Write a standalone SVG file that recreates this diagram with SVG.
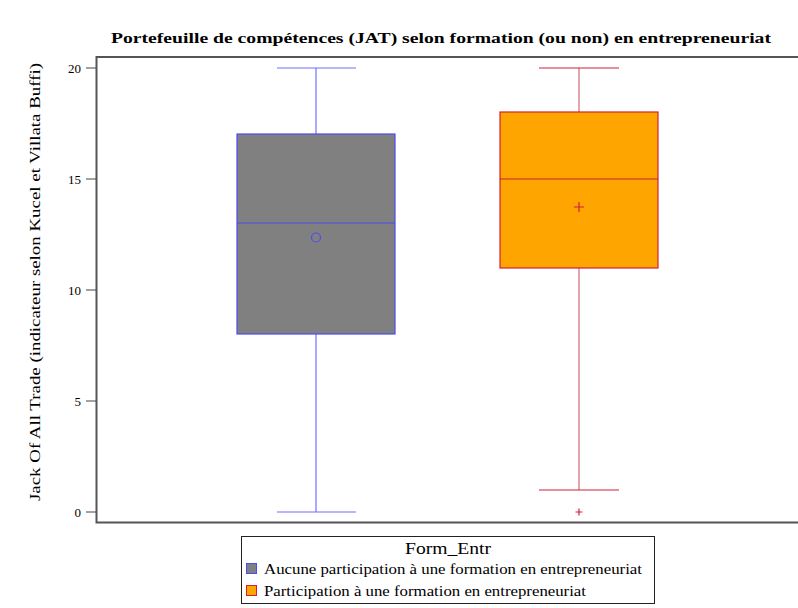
<svg xmlns="http://www.w3.org/2000/svg" width="798" height="608" viewBox="0 0 798 608">
<style>
.tick{stroke:#444;stroke-width:1}
.tl{font-size:13px;text-anchor:end}
.b1{stroke:#4c4cf0;stroke-width:1.2}
.w1{stroke:#7070ff;stroke-width:1.2}
.b2{stroke:#d0203a;stroke-width:1.2}
.w2{stroke:#d06878;stroke-width:1.2}
</style>
<rect width="798" height="608" fill="#fff"/>
<g font-family="'Liberation Serif', 'Times New Roman', serif" fill="#000">
<text x="441" y="43" font-family="'Liberation Serif', serif" font-size="15" font-weight="bold" text-anchor="middle" textLength="660" lengthAdjust="spacingAndGlyphs">Portefeuille de compétences (JAT) selon formation (ou non) en entrepreneuriat</text>
<g id="axes">
<path d="M800 57 H96.5 V522.5 H800" fill="none" stroke="#555" stroke-width="2"/>
<line class="tick" x1="86" y1="68" x2="96" y2="68"/>
<line class="tick" x1="86" y1="179" x2="96" y2="179"/>
<line class="tick" x1="86" y1="290" x2="96" y2="290"/>
<line class="tick" x1="86" y1="401" x2="96" y2="401"/>
<line class="tick" x1="86" y1="512" x2="96" y2="512"/>
<text class="tl" font-family="'Liberation Serif', serif" x="81" y="73">20</text>
<text class="tl" font-family="'Liberation Serif', serif" x="81" y="184">15</text>
<text class="tl" font-family="'Liberation Serif', serif" x="81" y="295">10</text>
<text class="tl" font-family="'Liberation Serif', serif" x="81" y="406">5</text>
<text class="tl" font-family="'Liberation Serif', serif" x="81" y="517">0</text>
<text transform="translate(40,282) rotate(-90)" font-family="'Liberation Serif', serif" font-size="15" text-anchor="middle" textLength="438" lengthAdjust="spacingAndGlyphs">Jack Of All Trade (indicateur selon Kucel et Villata Buffi)</text>
</g>
<g id="box1">
<line class="w1" x1="316" y1="68" x2="316" y2="134"/>
<line class="w1" x1="316" y1="334" x2="316" y2="512"/>
<line class="w1" x1="277" y1="68" x2="356" y2="68"/>
<line class="w1" x1="277" y1="512" x2="356" y2="512"/>
<rect class="b1" x="237" y="134" width="158" height="200" fill="#808080"/>
<line class="b1" x1="237" y1="223" x2="395" y2="223"/>
<circle class="b1" cx="316" cy="237.5" r="4.5" fill="none"/>
</g>
<g id="box2">
<line class="w2" x1="579" y1="68" x2="579" y2="112"/>
<line class="w2" x1="579" y1="268" x2="579" y2="490"/>
<line class="b2" x1="539" y1="68" x2="619" y2="68"/>
<line class="b2" x1="539" y1="490" x2="619" y2="490"/>
<rect class="b2" x="500" y="112" width="158" height="156" fill="#FFA500"/>
<line class="b2" x1="500" y1="179" x2="658" y2="179"/>
<path class="b2" d="M574 207 h10 M579 202 v10" fill="none"/>
<path class="b2" d="M575.5 512 h7 M579 508.5 v7" fill="none"/>
</g>
<g id="legend">
<rect x="241.5" y="536.5" width="413" height="67" fill="#fff" stroke="#222" stroke-width="1"/>
<text x="448" y="554" font-family="'Liberation Serif', serif" font-size="16" text-anchor="middle" textLength="86" lengthAdjust="spacingAndGlyphs">Form_Entr</text>
<rect x="246.5" y="563.5" width="10" height="10" fill="#808080" stroke="#4c4cf0"/>
<text x="264" y="573.5" font-family="'Liberation Serif', serif" font-size="14" textLength="378" lengthAdjust="spacingAndGlyphs">Aucune participation à une formation en entrepreneuriat</text>
<rect x="246.5" y="585.5" width="10" height="10" fill="#FFA500" stroke="#d0203a"/>
<text x="264" y="595.5" font-family="'Liberation Serif', serif" font-size="14" textLength="322" lengthAdjust="spacingAndGlyphs">Participation à une formation en entrepreneuriat</text>
</g>
</g>
</svg>
